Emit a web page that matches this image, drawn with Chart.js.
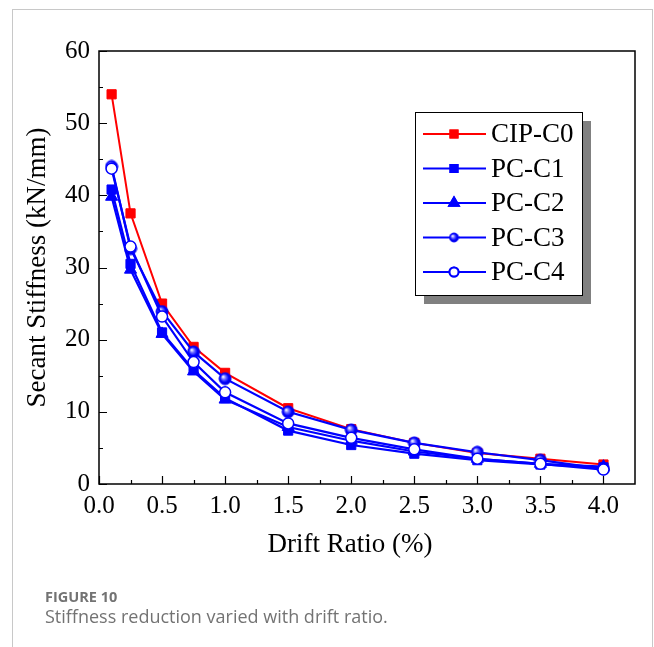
<!DOCTYPE html>
<html>
<head>
<meta charset="utf-8">
<script src="https://cdn.jsdelivr.net/npm/chart.js@4/dist/chart.umd.min.js"></script>
<style>
  html,body{margin:0;padding:0;background:#fff;}
  #wrap{position:relative;width:654px;height:647px;overflow:hidden;}
  #frame{position:absolute;left:12px;top:9px;width:641px;height:700px;border:1px solid #c8c8c8;box-sizing:border-box;}
  #c{position:absolute;left:0;top:0;}
  #fig{position:absolute;left:45px;top:590px;line-height:1;font-family:"Open Sans",Lato,sans-serif;font-weight:700;font-size:14.5px;color:#737373;white-space:nowrap;}
  #cap{position:absolute;left:45px;top:607px;line-height:1;font-family:"Open Sans",Lato,sans-serif;font-size:18px;color:#737373;white-space:nowrap;}
</style>
</head>
<body>
<div id="wrap">
  <div id="frame"></div>
  <canvas id="c" width="654" height="647"></canvas>
  <div id="fig">FIGURE 10</div>
  <div id="cap">Stiffness reduction varied with drift ratio.</div>
</div>
<script>
// ---- data ----
const driftRatio = [0.1, 0.25, 0.5, 0.75, 1.0, 1.5, 2.0, 2.5, 3.0, 3.5, 4.0];
const cipC0 = [54.0, 37.5, 25.0, 19.0, 15.4, 10.5, 7.6, 5.7, 4.3, 3.5, 2.7];
const pcC1  = [40.8, 30.5, 21.0, 15.8, 11.9, 7.4, 5.4, 4.2, 3.3, 2.7, 2.3];
const pcC2  = [39.8, 29.7, 20.8, 15.6, 11.7, 7.9, 6.0, 4.5, 3.5, 2.8, 2.4];
const pcC3  = [44.0, 32.6, 23.9, 18.3, 14.6, 10.0, 7.5, 5.7, 4.4, 3.3, 2.1];
const pcC4  = [43.7, 32.9, 23.2, 16.9, 12.7, 8.4, 6.4, 4.8, 3.5, 2.8, 2.0];
const seriesNames = ['CIP-C0', 'PC-C1', 'PC-C2', 'PC-C3', 'PC-C4'];
const xTickValues = [0, 0.5, 1.0, 1.5, 2.0, 2.5, 3.0, 3.5, 4.0];
const yTickValues = [0, 10, 20, 30, 40, 50, 60];
const xTitle = 'Drift Ratio (%)';
const yTitle = 'Secant Stiffness (kN/mm)';

// ---- shaded sphere marker ----
function makeSphere(r){
  const c = document.createElement('canvas');
  const s = Math.ceil(r*2+2);
  c.width = s; c.height = s;
  const g = c.getContext('2d');
  const cx = s/2, cy = s/2;
  const grad = g.createRadialGradient(cx - r*0.35, cy - r*0.35, r*0.05, cx, cy, r);
  grad.addColorStop(0, '#ffffff');
  grad.addColorStop(0.35, '#6a6aff');
  grad.addColorStop(0.7, '#0000ff');
  grad.addColorStop(1, '#0000d0');
  g.beginPath(); g.arc(cx, cy, r, 0, Math.PI*2);
  g.fillStyle = grad; g.fill();
  g.lineWidth = 1; g.strokeStyle = '#0000ff'; g.stroke();
  return c;
}
const sphere = makeSphere(6);
const sphereSmall = makeSphere(4.5);

const pts = arr => arr.map((v,i)=>({x: driftRatio[i], y: v}));
const RED = '#ff0000', BLUE = '#0000ff';

const datasets = [
  {label: seriesNames[0], data: pts(cipC0), borderColor: RED, backgroundColor: RED, pointStyle: 'rect', pointRadius: 6.5, pointBorderWidth: 1, borderWidth: 2, order: 5},
  {label: seriesNames[1], data: pts(pcC1), borderColor: BLUE, backgroundColor: BLUE, pointStyle: 'rect', pointRadius: 6.5, pointBorderWidth: 1, borderWidth: 2.2, order: 4},
  {label: seriesNames[2], data: pts(pcC2), borderColor: BLUE, backgroundColor: BLUE, pointStyle: 'triangle', pointRadius: 7, pointBorderWidth: 1, borderWidth: 2.2, order: 3},
  {label: seriesNames[3], data: pts(pcC3), borderColor: BLUE, backgroundColor: BLUE, pointStyle: sphere, pointRadius: 6, borderWidth: 2.2, order: 2},
  {label: seriesNames[4], data: pts(pcC4), borderColor: BLUE, backgroundColor: '#ffffff', pointStyle: 'circle', pointRadius: 5.5, pointBorderWidth: 1.5, borderWidth: 2.2, order: 1}
];

const SERIF = '"Liberation Serif","Times New Roman",serif';

const framePlugin = {
  id: 'framePlugin',
  afterDatasetsDraw(chart){
    const {ctx, chartArea: a, scales: {x, y}} = chart;
    ctx.save();
    // inner ticks
    ctx.strokeStyle = '#000'; ctx.lineWidth = 1.2;
    ctx.beginPath();
    for (let v = 0; v <= 60.001; v += 5) {
      const py = Math.round(y.getPixelForValue(v)) + 0.5;
      const len = (Math.abs(v % 10) < 1e-6) ? 8 : 4;
      ctx.moveTo(a.left, py); ctx.lineTo(a.left + len, py);
    }
    for (let v = 0; v <= 4.001; v += 0.25) {
      const px = Math.round(x.getPixelForValue(v)) + 0.5;
      const len = (Math.abs((v*2) % 1) < 1e-6) ? 8 : 4;
      ctx.moveTo(px, a.bottom); ctx.lineTo(px, a.bottom - len);
    }
    ctx.stroke();
    // frame
    ctx.lineWidth = 1.5;
    ctx.strokeRect(a.left, a.top, a.right - a.left, a.bottom - a.top);
    // x title
    ctx.fillStyle = '#000';
    ctx.font = '27px ' + SERIF;
    ctx.textAlign = 'center'; ctx.textBaseline = 'middle';
    ctx.fillText(xTitle, a.left + 251, 545);
    // legend
    const lx = 415, ly = 112, lw = 167, lh = 183;
    ctx.fillStyle = '#808080';
    ctx.fillRect(lx + 9, ly + 9, lw, lh);
    ctx.fillStyle = '#ffffff';
    ctx.fillRect(lx, ly, lw, lh);
    ctx.lineWidth = 1; ctx.strokeStyle = '#000';
    ctx.strokeRect(lx + 0.5, ly + 0.5, lw, lh);
    ctx.font = '27px ' + SERIF;
    ctx.textAlign = 'left'; ctx.textBaseline = 'middle';
    chart.data.datasets.forEach((ds, i) => {
      const cy = 134 + i * 34.5;
      ctx.strokeStyle = ds.borderColor; ctx.lineWidth = 2;
      ctx.beginPath(); ctx.moveTo(423, cy); ctx.lineTo(486, cy); ctx.stroke();
      const mx = 454;
      if (ds.pointStyle === sphere) {
        ctx.drawImage(sphereSmall, mx - sphereSmall.width/2, cy - sphereSmall.height/2);
      } else {
        Chart.helpers.drawPoint(ctx, {pointStyle: ds.pointStyle, radius: ds.pointStyle === 'triangle' ? 5.5 : (ds.pointStyle === 'rect' ? 5 : 4.5), rotation: 0, borderWidth: 1}, mx, cy);
        ctx.fillStyle = ds.backgroundColor; ctx.strokeStyle = ds.borderColor;
        ctx.fill(); ctx.stroke();
      }
      ctx.fillStyle = '#000';
      ctx.fillText(ds.label, 491, cy + 1);
    });
    ctx.restore();
  }
};

new Chart(document.getElementById('c'), {
  type: 'line',
  data: { datasets },
  options: {
    responsive: false,
    devicePixelRatio: 1,
    animation: false,
    layout: { padding: { left: 12, right: 19, top: 51, bottom: 83 } },
    plugins: { legend: { display: false }, tooltip: { enabled: false } },
    elements: { line: { tension: 0 } },
    scales: {
      x: {
        type: 'linear', min: 0, max: 4.25,
        grid: { display: false, drawTicks: false },
        border: { display: false },
        afterBuildTicks: s => { s.ticks = xTickValues.map(v => ({value: v})); },
        afterFit: s => { s.height = 80; },
        ticks: { color: '#000', font: { family: SERIF, size: 25 }, padding: 7, maxRotation: 0, autoSkip: false,
                 callback: v => Number(v).toFixed(1) }
      },
      y: {
        type: 'linear', min: 0, max: 60,
        grid: { display: false, drawTicks: false },
        border: { display: false },
        afterBuildTicks: s => { s.ticks = yTickValues.map(v => ({value: v})); },
        afterFit: s => { s.width = 87; },
        ticks: { color: '#000', font: { family: SERIF, size: 25 }, padding: 9, callback: v => String(v) },
        title: { display: true, text: yTitle, color: '#000', font: { family: SERIF, size: 27 }, padding: { top: 10, bottom: 0 } }
      }
    }
  },
  plugins: [framePlugin]
});
</script>
</body>
</html>
